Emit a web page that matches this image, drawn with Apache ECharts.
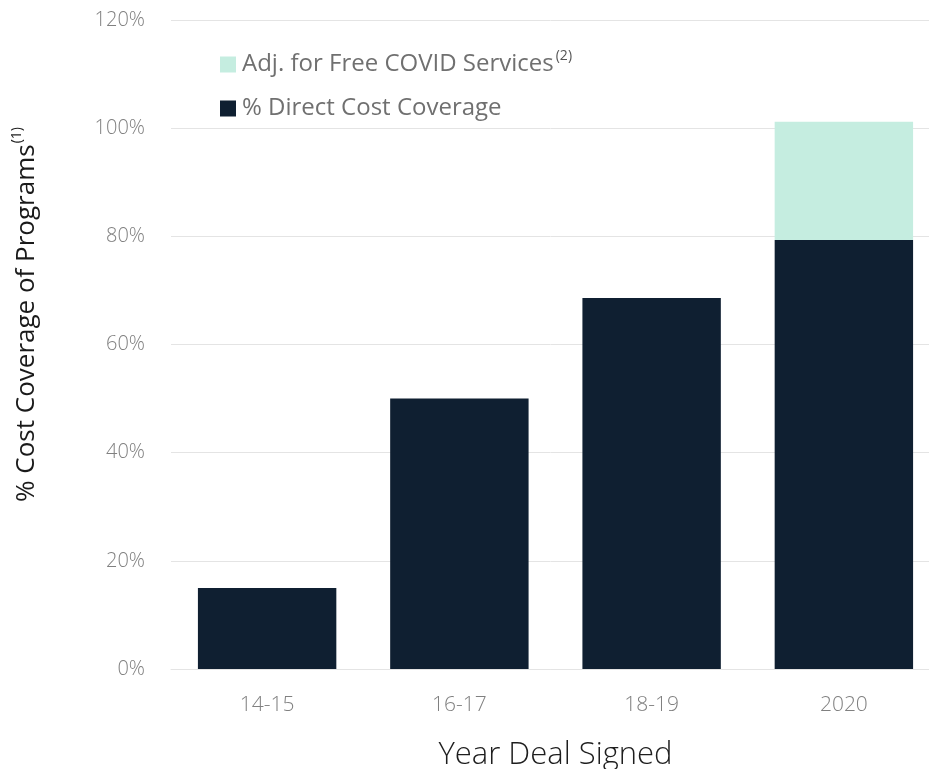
<!DOCTYPE html>
<html>
<head>
<meta charset="utf-8">
<script src="https://cdn.jsdelivr.net/npm/echarts@6/dist/echarts.min.js"></script>
<style>html,body{margin:0;padding:0;background:#fff}#c{width:929px;height:769px}</style>
</head>
<body>
<div id="c"></div>
<script>
var categories = ['14-15', '16-17', '18-19', '2020'];
var directCoverage = [15, 50, 68.6, 79.3];
var covidAdjustment = [0, 0, 0, 21.9];
var yTicks = [0, 20, 40, 60, 80, 100, 120];
var seriesNames = ['% Direct Cost Coverage', 'Adj. for Free COVID Services'];

var chart = echarts.init(document.getElementById('c'));
var font = '"Open Sans", Lato, sans-serif';
chart.setOption({
  animation: false,
  textStyle: { fontFamily: font },
  grid: { left: 171, right: -11, top: 20, bottom: 100, containLabel: false, outerBoundsMode: 'none' },
  legend: {
    orient: 'vertical', left: 215, top: 44, itemGap: 20,
    itemWidth: 16, itemHeight: 16, icon: 'rect',
    data: [seriesNames[1], seriesNames[0]],
    formatter: function (n) { return n === seriesNames[1] ? n + '{sup|(2)}' : n; },
    textStyle: { fontFamily: font, fontSize: 24, fontWeight: 400, color: '#707070', padding: [0, 0, 0, 1],
      rich: { sup: { fontFamily: font, fontSize: 14, color: '#555', verticalAlign: 'bottom', padding: [0, 0, 17, 2] } } }
  },
  xAxis: {
    type: 'category', data: categories,
    axisLine: { show: true, lineStyle: { color: '#e4e4e4', width: 1 } },
    axisTick: { show: false },
    axisLabel: { fontSize: 21, fontWeight: 300, color: '#808080', margin: 26, fontFamily: font },
    name: 'Year Deal Signed', nameLocation: 'middle', nameGap: 71,
    nameTextStyle: { fontSize: 31, fontWeight: 300, color: '#1e1e1e', fontFamily: font }
  },
  yAxis: {
    type: 'value', min: 0, max: 120, interval: 20,
    axisLine: { show: false }, axisTick: { show: false },
    axisLabel: { fontSize: 20, fontWeight: 300, color: '#808080', margin: 26, fontFamily: font,
      formatter: function (v) { return yTicks.indexOf(v) >= 0 ? v + '%' : ''; } },
    splitLine: { lineStyle: { color: '#e4e4e4', width: 1 } },
    name: '% Cost Coverage of Programs{sup|(1)}', nameLocation: 'middle', nameGap: 128,
    nameTextStyle: { fontSize: 26, fontWeight: 400, color: '#1a1a1a', fontFamily: font, padding: [0, 0, 0, 60],
      rich: { sup: { fontFamily: font, fontSize: 14, color: '#1a1a1a', verticalAlign: 'bottom', padding: [0, 0, 19, 1] } } }
  },
  series: [
    { name: seriesNames[0], type: 'bar', stack: 'a', data: directCoverage,
      barWidth: '72%', itemStyle: { color: '#0f1f31' } },
    { name: seriesNames[1], type: 'bar', stack: 'a', data: covidAdjustment,
      barWidth: '72%', itemStyle: { color: '#c5ede0' } }
  ]
});
</script>
</body>
</html>
